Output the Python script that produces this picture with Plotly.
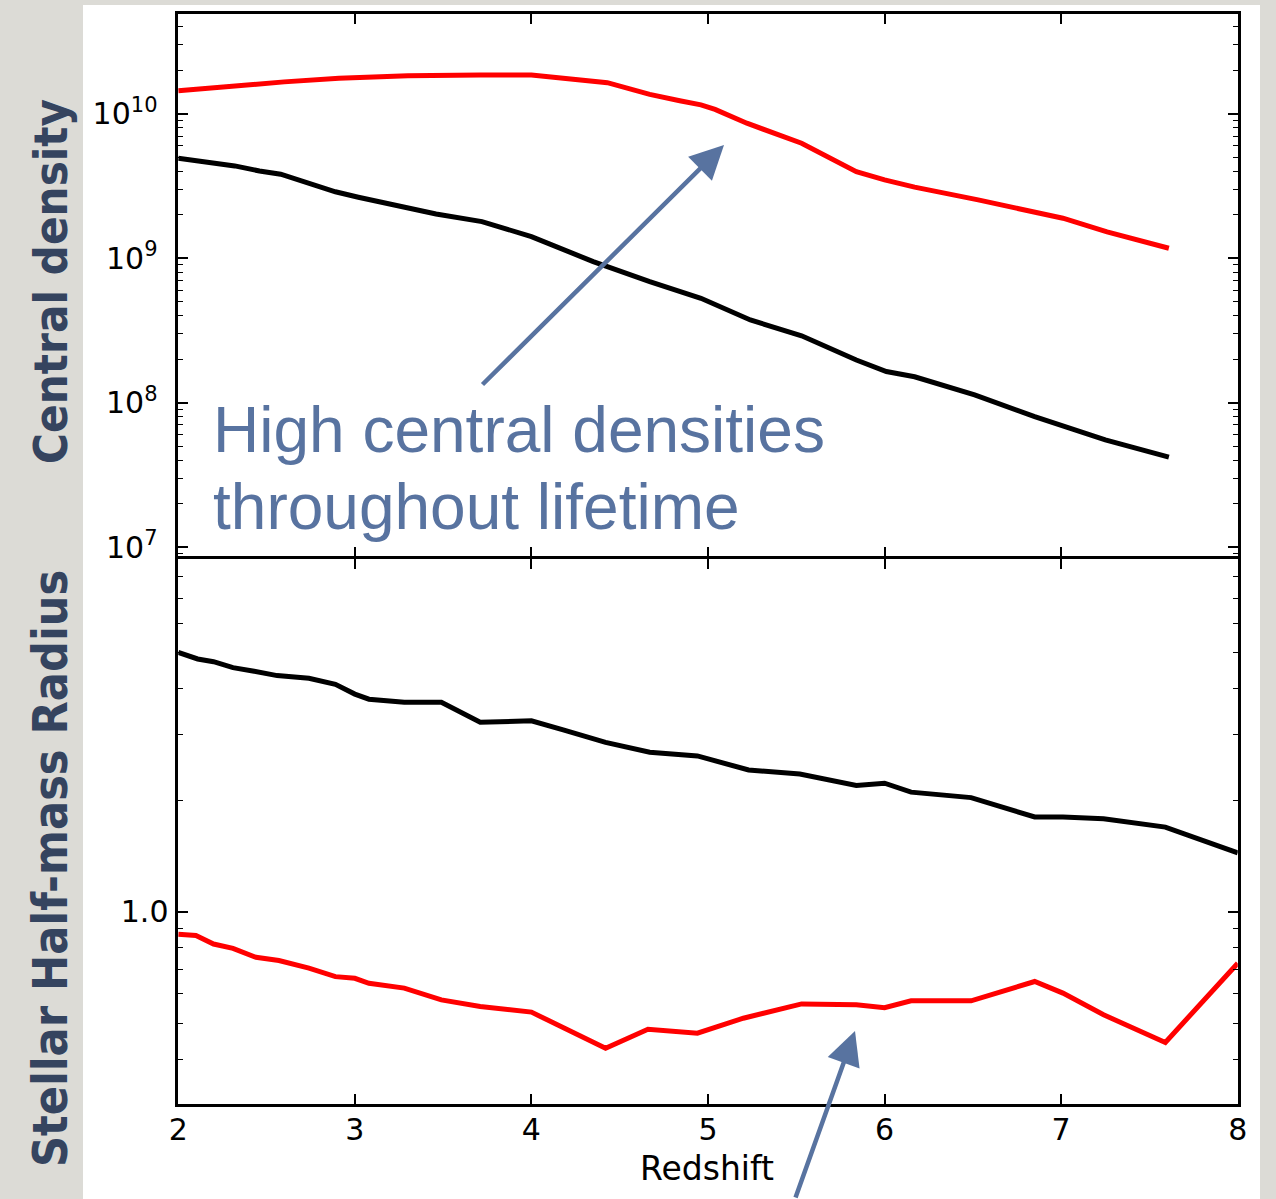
import plotly.graph_objects as go

# ---- central density (top panel) ----
z_dens_black = [2.0, 2.32, 2.46, 2.58, 2.89, 3.02, 3.46, 3.72, 4.0, 4.35, 4.67,
                4.96, 5.24, 5.53, 5.84, 6.01, 6.17, 6.51, 6.85, 7.25, 7.61]
dens_black = [4.91e9, 4.35e9, 4.01e9, 3.81e9, 2.88e9, 2.64e9, 2.02e9, 1.79e9, 1.41e9,
              9.46e8, 6.87e8, 5.27e8, 3.73e8, 2.90e8, 1.97e8, 1.64e8, 1.51e8, 1.13e8,
              8.0e7, 5.52e7, 4.19e7]

z_dens_red = [2.0, 2.45, 2.6, 2.91, 3.09, 3.3, 3.71, 4.0, 4.43, 4.67, 4.84, 4.96, 5.04,
              5.22, 5.53, 5.84, 6.0, 6.17, 6.53, 7.01, 7.26, 7.61]
dens_red = [1.44e10, 1.62e10, 1.66e10, 1.76e10, 1.79e10, 1.83e10, 1.85e10, 1.85e10,
            1.64e10, 1.36e10, 1.23e10, 1.15e10, 1.07e10, 8.59e9, 6.24e9, 3.97e9, 3.48e9,
            3.10e9, 2.53e9, 1.89e9, 1.52e9, 1.17e9]

# ---- stellar half-mass radius (bottom panel) ----
z_rad_black = [2.0, 2.11, 2.2, 2.31, 2.43, 2.56, 2.74, 2.89, 3.0, 3.08, 3.28, 3.49, 3.71,
               4.0, 4.18, 4.42, 4.67, 4.94, 5.23, 5.52, 5.84, 6.0, 6.15, 6.49, 6.85, 7.01,
               7.24, 7.59, 8.0]
rad_black = [5.00, 4.80, 4.72, 4.55, 4.45, 4.33, 4.26, 4.10, 3.86, 3.74, 3.67, 3.67, 3.24,
             3.27, 3.09, 2.86, 2.69, 2.63, 2.41, 2.35, 2.19, 2.22, 2.10, 2.03, 1.80, 1.80,
             1.78, 1.69, 1.44]

z_rad_red = [2.0, 2.1, 2.2, 2.31, 2.44, 2.57, 2.74, 2.89, 3.0, 3.08, 3.28, 3.49, 3.71, 4.0,
             4.42, 4.66, 4.94, 5.2, 5.53, 5.84, 6.0, 6.15, 6.49, 6.85, 7.01, 7.24, 7.59, 8.0]
rad_red = [0.869, 0.862, 0.818, 0.796, 0.753, 0.738, 0.704, 0.668, 0.661, 0.641, 0.622,
           0.578, 0.555, 0.536, 0.428, 0.482, 0.470, 0.516, 0.564, 0.561, 0.551, 0.575,
           0.575, 0.648, 0.603, 0.527, 0.444, 0.726]

# ---- tick labels ----
x_ticks = [2, 3, 4, 5, 6, 7, 8]
dens_ticks = [1e7, 1e8, 1e9, 1e10]
dens_ticktext = ["10<sup>7</sup>", "10<sup>8</sup>", "10<sup>9</sup>", "10<sup>10</sup>"]
dens_minor = [m * 10 ** e for e in range(6, 11) for m in range(2, 10) if 9e6 <= m * 10 ** e <= 4.5e10]
rad_ticks = [1.0]
rad_ticktext = ["1.0"]
rad_minor = [0.4, 0.5, 0.6, 0.7, 0.8, 0.9, 2, 3, 4, 5, 6, 7, 8]

W, H = 1276, 1199
def px(x):
    return x / W
def py(y):
    return 1 - y / H

TICKFONT = dict(family="DejaVu Sans", size=30, color="black")
LINE_W = 5
AX_W = 2.5

fig = go.Figure()
fig.add_trace(go.Scatter(x=z_dens_red, y=dens_red, mode="lines",
                         line=dict(color="#ff0000", width=LINE_W), xaxis="x2", yaxis="y2"))
fig.add_trace(go.Scatter(x=z_dens_black, y=dens_black, mode="lines",
                         line=dict(color="black", width=LINE_W), xaxis="x2", yaxis="y2"))
fig.add_trace(go.Scatter(x=z_rad_black, y=rad_black, mode="lines",
                         line=dict(color="black", width=LINE_W), xaxis="x", yaxis="y"))
fig.add_trace(go.Scatter(x=z_rad_red, y=rad_red, mode="lines",
                         line=dict(color="#ff0000", width=LINE_W), xaxis="x", yaxis="y"))

axis_common = dict(showline=True, linecolor="black", linewidth=AX_W, mirror="ticks",
                   ticks="inside", ticklen=10, tickwidth=1.5, tickcolor="black",
                   showgrid=False, zeroline=False, tickfont=TICKFONT)

# axis lines sit just outside the domain edges, so shift edges by half a line width
half = AX_W / 2
x_dom = [px(177 + half), px(1239 - half)]
bottom_dom = [py(1105 - half), py(557.7 + half)]
top_dom = [py(557.7 - half), py(12.6 + half)]

fig.update_layout(
    width=W, height=H,
    margin=dict(l=0, r=0, t=0, b=0, autoexpand=False),
    paper_bgcolor="#dcdbd6",
    plot_bgcolor="white",
    showlegend=False,
    xaxis=dict(domain=x_dom, range=[2, 8], anchor="y", tickmode="array",
               tickvals=x_ticks, ticktext=[str(v) for v in x_ticks],
               ticklabelstandoff=-3, **axis_common),
    yaxis=dict(domain=bottom_dom, type="log", range=[-0.518, 0.951], anchor="x",
               tickmode="array", tickvals=rad_ticks, ticktext=rad_ticktext,
               ticklabelstandoff=1,
               minor=dict(tickmode="array", tickvals=rad_minor, ticks="inside",
                          ticklen=5, tickwidth=1.2, tickcolor="black", showgrid=False),
               **axis_common),
    xaxis2=dict(domain=x_dom, range=[2, 8], anchor="y2", tickmode="array",
                tickvals=x_ticks, showticklabels=False, **axis_common),
    yaxis2=dict(domain=top_dom, type="log", range=[6.935, 10.691], anchor="x2",
                tickmode="array", tickvals=dens_ticks, ticktext=dens_ticktext,
                ticklabelstandoff=12,
                minor=dict(tickmode="array", tickvals=dens_minor, ticks="inside",
                           ticklen=5, tickwidth=1.2, tickcolor="black", showgrid=False),
                **axis_common),
)

# white slide panel behind the plots
fig.add_shape(type="rect", xref="paper", yref="paper", x0=px(83), x1=px(1260),
              y0=0, y1=py(5), fillcolor="white", line=dict(width=0), layer="below")

SIDE_COLOR = "#35445f"
NOTE = dict(family="Liberation Sans", size=64, color="#5873a0")
ARROW = "#5873a0"

fig.add_annotation(text="Redshift", xref="paper", yref="paper", x=px(707), y=py(1168),
                   showarrow=False, font=dict(family="DejaVu Sans", size=33, color="black"),
                   xanchor="center", yanchor="middle")
fig.add_annotation(text="Central density", xref="paper", yref="paper", x=px(50), y=py(282),
                   textangle=-90, showarrow=False,
                   font=dict(family="DejaVu Sans Condensed", size=47, color=SIDE_COLOR,
                             weight="bold"),
                   xanchor="center", yanchor="middle")
fig.add_annotation(text="Stellar Half-mass Radius", xref="paper", yref="paper", x=px(50),
                   y=py(869), textangle=-90, showarrow=False,
                   font=dict(family="DejaVu Sans Condensed", size=48, color=SIDE_COLOR,
                             weight="bold"),
                   xanchor="center", yanchor="middle")
fig.add_annotation(text="High central densities", xref="paper", yref="paper", x=px(211),
                   y=py(430), showarrow=False, font=NOTE, xanchor="left", yanchor="middle")
fig.add_annotation(text="throughout lifetime", xref="paper", yref="paper", x=px(211),
                   y=py(507), showarrow=False, font=NOTE, xanchor="left", yanchor="middle")

# arrows pointing at the red curves
fig.add_annotation(text="", xref="paper", yref="paper", x=px(724), y=py(145),
                   ax=-243, ay=241, showarrow=True, arrowhead=2, arrowsize=1.5,
                   arrowwidth=4.5, arrowcolor=ARROW, standoff=0)
fig.add_annotation(text="", xref="paper", yref="paper", x=px(855), y=py(1031),
                   ax=-60, ay=180, showarrow=True, arrowhead=2, arrowsize=1.5,
                   arrowwidth=4.5, arrowcolor=ARROW, standoff=0)

fig.write_html("out.html")
